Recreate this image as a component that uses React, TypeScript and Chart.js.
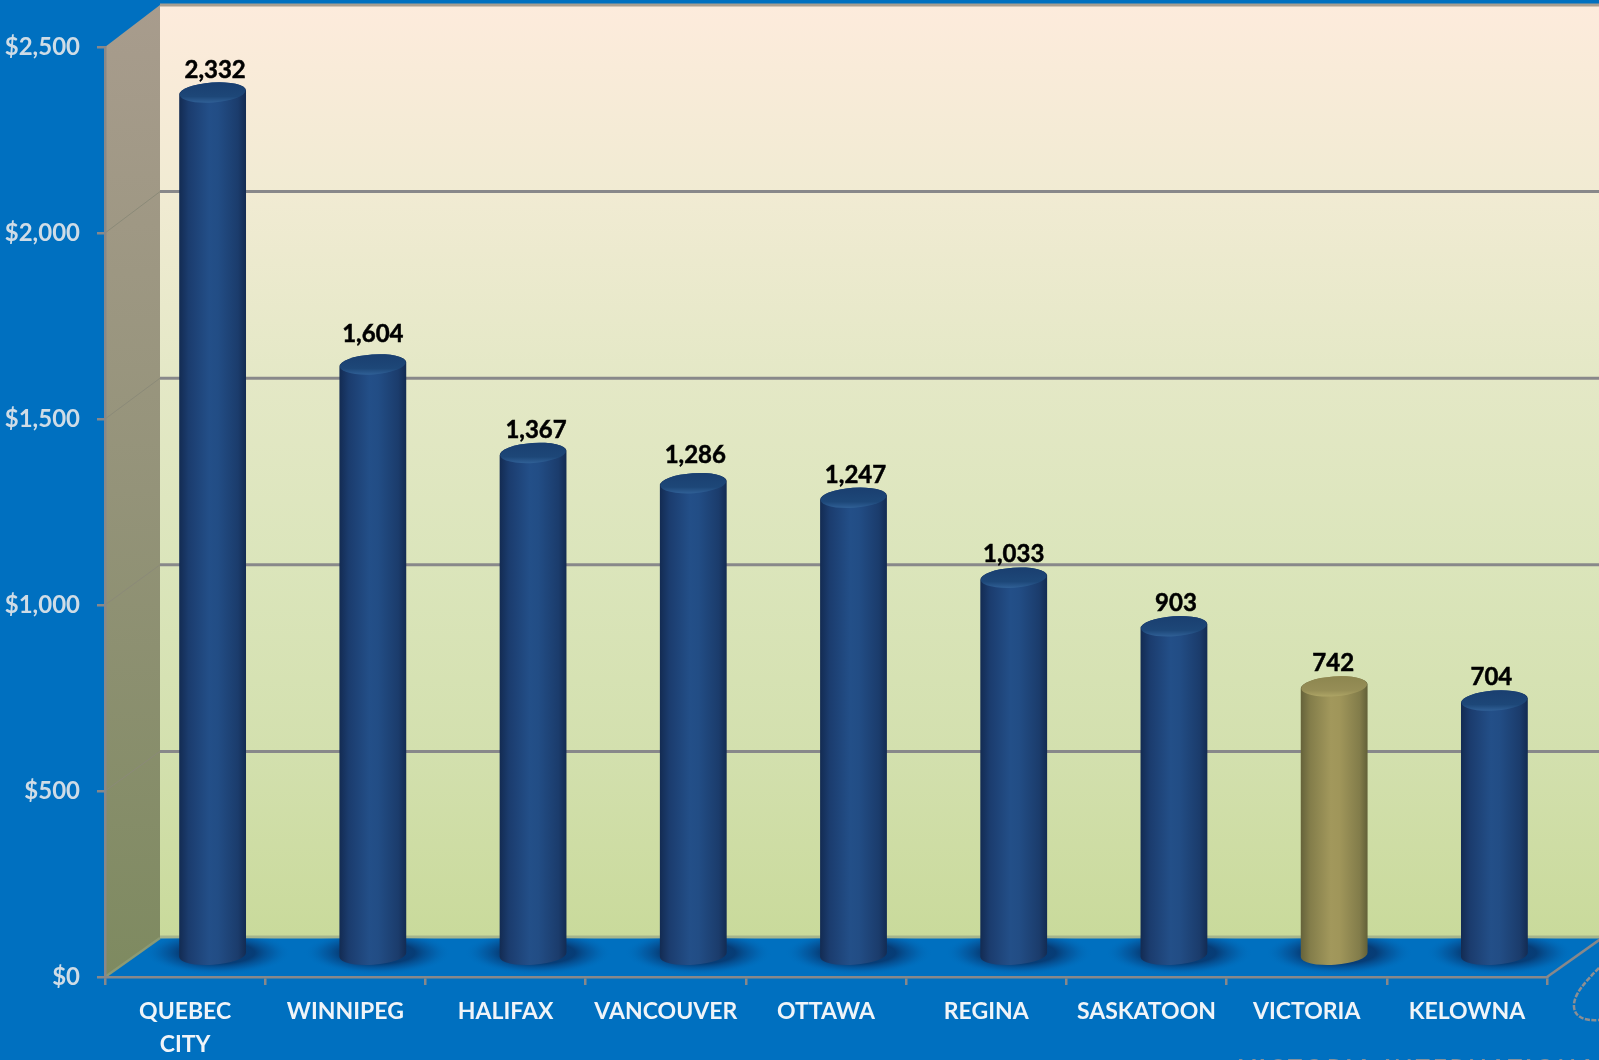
import React, { useEffect, useRef } from "react";
import { Chart, registerables, BarController, BarElement } from "chart.js";

const cities = [["QUEBEC", "CITY"], "WINNIPEG", "HALIFAX", "VANCOUVER", "OTTAWA", "REGINA", "SASKATOON", "VICTORIA", "KELOWNA"];
const costs = [2332, 1604, 1367, 1286, 1247, 1033, 903, 742, 704];
const barColors = ["#1f4a84", "#1f4a84", "#1f4a84", "#1f4a84", "#1f4a84", "#1f4a84", "#1f4a84", "#9c9258", "#1f4a84"];
const footerText = "VICTORIA INTERNATIONAL AIRPORT";

const FONT = "Lato, Carlito, sans-serif";
const BLUE = "#0070C0";
const GRID = "#88888a";
const DEPTH_X = 55;
const TILT = (-4 * Math.PI) / 180;

// hand-placed offsets of the value labels, as in the original slide
const labelNudgeX = [2.5, 0, 3, 2, 2, 0, 2, -1, -3];
const labelNudgeY = [2, -5, 3, -2, 3, 3, 3, 3, 3];

const shades: Record<string, { stops: string[]; capA: string; capB: string; capRim: string }> = {
  "#1f4a84": {
    stops: ["#132b52", "#1b3c6e", "#234f88", "#224d85", "#1b3c6c", "#132b52"],
    capA: "#1a3f70",
    capB: "#1d4778",
    capRim: "#2f5f95",
  },
  "#9c9258": {
    stops: ["#65623a", "#837d4a", "#a2985c", "#a0965a", "#827c4a", "#626038"],
    capA: "#8d8650",
    capB: "#968e56",
    capRim: "#ada465",
  },
};

class CylinderElement extends BarElement {
  static id = "cylinder";
  draw(ctx: CanvasRenderingContext2D) {
    const { x, y, base, width } = (this as any).getProps(["x", "y", "base", "width"], true);
    const shade = shades[(this as any).options.backgroundColor] || shades["#1f4a84"];
    const cx = x + 27.5;
    const topY = y - 13.5 - (3.5 * (base - y)) / 870;
    const baseY = base - 21;
    const rx = width / 2;
    const ry = 10;

    // floor shadow
    ctx.save();
    ctx.beginPath();
    ctx.rect(cx - 110, 938, 220, 38);
    ctx.clip();
    ctx.translate(cx + 5, baseY - 2);
    ctx.scale(1, 0.3);
    const sh = ctx.createRadialGradient(0, 0, 0, 0, 0, 74);
    sh.addColorStop(0, "rgba(8,48,100,0.85)");
    sh.addColorStop(0.5, "rgba(8,48,100,0.8)");
    sh.addColorStop(0.75, "rgba(6,70,135,0.4)");
    sh.addColorStop(1, "rgba(0,112,192,0)");
    ctx.fillStyle = sh;
    ctx.beginPath();
    ctx.arc(0, 0, 74, 0, Math.PI * 2);
    ctx.fill();
    ctx.restore();

    // body
    ctx.save();
    const g = ctx.createLinearGradient(cx - rx, 0, cx + rx, 0);
    [0, 0.14, 0.45, 0.58, 0.88, 1].forEach((p, i) => g.addColorStop(p, shade.stops[i]));
    ctx.fillStyle = g;
    ctx.beginPath();
    ctx.ellipse(cx, baseY, rx, ry, TILT, 0, Math.PI);
    ctx.ellipse(cx, topY, rx, ry, TILT, Math.PI, Math.PI * 2);
    ctx.closePath();
    ctx.fill();

    // cap
    const c = ctx.createLinearGradient(0, topY - ry, 0, topY + ry);
    c.addColorStop(0, shade.capA);
    c.addColorStop(0.7, shade.capB);
    c.addColorStop(1, shade.capRim);
    ctx.fillStyle = c;
    ctx.beginPath();
    ctx.ellipse(cx, topY, rx - 0.5, ry, TILT, 0, Math.PI * 2);
    ctx.fill();
    ctx.restore();
  }
}

class CylinderController extends BarController {
  static id = "cylinder";
  static defaults = { ...(BarController as any).defaults, dataElementType: "cylinder" };
  static overrides = (BarController as any).overrides;
}

Chart.register(...registerables, CylinderElement as any, CylinderController as any);

const scenery = {
  id: "scenery",
  beforeDraw(chart: any) {
    const { ctx, width, height } = chart;
    const xs = chart.scales.x;
    const ys = chart.scales.y;
    const left = xs.left;
    const right = xs.right;
    const back = (v: number) => ys.getPixelForValue(v) - 39 - (3 * v) / 2500;
    const y0 = ys.getPixelForValue(0);
    const yMax = ys.getPixelForValue(2500);
    const bx = left + DEPTH_X;

    ctx.save();
    ctx.fillStyle = BLUE;
    ctx.fillRect(0, 0, width, height);

    // back wall
    const wall = ctx.createLinearGradient(0, back(2500), 0, back(0));
    wall.addColorStop(0, "#fdebdc");
    wall.addColorStop(0.2, "#f1ebd3");
    wall.addColorStop(0.4, "#e4e8c6");
    wall.addColorStop(0.6, "#dbe5bb");
    wall.addColorStop(0.8, "#d3e0ae");
    wall.addColorStop(1, "#c9da9b");
    ctx.fillStyle = wall;
    ctx.fillRect(bx, back(2500), width - bx, back(0) - back(2500));

    // side wall
    const side = ctx.createLinearGradient(0, back(2500), 0, y0);
    side.addColorStop(0, "#a89c8d");
    side.addColorStop(0.5, "#949379");
    side.addColorStop(1, "#7e8a60");
    ctx.fillStyle = side;
    ctx.beginPath();
    ctx.moveTo(left, yMax);
    ctx.lineTo(bx, back(2500));
    ctx.lineTo(bx, back(0));
    ctx.lineTo(left, y0);
    ctx.closePath();
    ctx.fill();

    // edges of the box and gridlines
    ys.ticks.forEach((t: any) => {
      const v = t.value;
      const yb = back(v);
      const yf = ys.getPixelForValue(v);
      if (v > 0) {
        ctx.lineWidth = 3;
        ctx.strokeStyle = v === 2500 ? "#a89e90" : GRID;
        ctx.beginPath();
        ctx.moveTo(bx, yb);
        ctx.lineTo(width, yb);
        ctx.stroke();
      }
      if (v > 0 && v < 2500) {
        ctx.lineWidth = 1;
        ctx.strokeStyle = "#8b8a78";
        ctx.beginPath();
        ctx.moveTo(left, yf);
        ctx.lineTo(bx, yb);
        ctx.stroke();
      }
    });

    // floor
    ctx.fillStyle = BLUE;
    ctx.beginPath();
    ctx.moveTo(left, y0);
    ctx.lineTo(right, y0);
    ctx.lineTo(right + DEPTH_X, back(0));
    ctx.lineTo(bx, back(0));
    ctx.closePath();
    ctx.fill();
    ctx.lineWidth = 3;
    ctx.strokeStyle = "#a5b58d";
    ctx.beginPath();
    ctx.moveTo(bx, back(0) - 1);
    ctx.lineTo(width, back(0) - 1);
    ctx.stroke();
    ctx.lineWidth = 2.5;
    ctx.strokeStyle = GRID;
    ctx.beginPath();
    ctx.moveTo(right, y0);
    ctx.lineTo(right + DEPTH_X, back(0));
    ctx.stroke();
    ctx.strokeStyle = "#8c9a74";
    ctx.beginPath();
    ctx.moveTo(left, y0);
    ctx.lineTo(bx, back(0));
    ctx.stroke();

    // partly cropped ornament and footer at the photo's edge
    ctx.strokeStyle = "#8d8f92";
    ctx.lineWidth = 2.5;
    ctx.setLineDash([5, 1.5]);
    ctx.beginPath();
    ctx.moveTo(1599, 968);
    ctx.bezierCurveTo(1585, 982, 1573, 995, 1574, 1007);
    ctx.bezierCurveTo(1575, 1017, 1584, 1021, 1599, 1020);
    ctx.stroke();
    ctx.setLineDash([]);

    ctx.fillStyle = "#85909a";
    ctx.font = `bold 24px ${FONT}`;
    (ctx as any).letterSpacing = "3px";
    ctx.textAlign = "left";
    ctx.textBaseline = "alphabetic";
    ctx.fillText(footerText, 1239, 1077);
    (ctx as any).letterSpacing = "0px";
    ctx.restore();
  },
};

const valueLabels = {
  id: "valueLabels",
  afterDatasetsDraw(chart: any) {
    const { ctx } = chart;
    const meta = chart.getDatasetMeta(0);
    ctx.save();
    ctx.fillStyle = "#000";
    ctx.strokeStyle = "#000";
    ctx.lineWidth = 0.5;
    ctx.font = `bold 24px ${FONT}`;
    ctx.textAlign = "center";
    ctx.textBaseline = "middle";
    meta.data.forEach((el: any, i: number) => {
      const text = costs[i].toLocaleString("en-US");
      const lx = el.x + 27.5 + labelNudgeX[i];
      const ly = el.y - 41 + labelNudgeY[i];
      ctx.fillText(text, lx, ly);
      ctx.strokeText(text, lx, ly);
    });
    ctx.restore();
  },
};

export default function App() {
  const ref = useRef<HTMLCanvasElement>(null);
  useEffect(() => {
    const chart = new Chart(ref.current as HTMLCanvasElement, {
      type: "cylinder" as any,
      data: {
        labels: cities as any,
        datasets: [
          {
            data: costs,
            backgroundColor: barColors,
            borderWidth: 0,
            barPercentage: 0.418,
            categoryPercentage: 1,
            clip: false as any,
          },
        ],
      },
      options: {
        responsive: false,
        animation: false,
        layout: { padding: { top: 47, right: 52, left: 0, bottom: 0 } },
        plugins: { legend: { display: false }, tooltip: { enabled: false }, title: { display: false } },
        scales: {
          x: {
            afterFit(s: any) {
              s.height = 83;
            },
            grid: { drawOnChartArea: false, color: GRID, tickLength: 8, lineWidth: 2.5 },
            border: { color: GRID, width: 2.5 },
            ticks: {
              color: "#f0f4f8",
              padding: 10,
              maxRotation: 0,
              autoSkip: false,
              font: { family: FONT, weight: "bold", size: 23, lineHeight: 33 / 23 },
            },
          },
          y: {
            min: 0,
            max: 2500,
            afterFit(s: any) {
              s.width = 105;
            },
            grid: { drawOnChartArea: false, color: GRID, tickLength: 8, lineWidth: 2.5 },
            border: { color: GRID, width: 2.5 },
            ticks: {
              stepSize: 500,
              color: "#cfdce6",
              padding: 17,
              font: { family: FONT, weight: "bold", size: 24 },
              callback: (v: any) => "$" + Number(v).toLocaleString("en-US"),
            },
          },
        },
      },
      plugins: [scenery, valueLabels],
    } as any);
    return () => chart.destroy();
  }, []);
  return (
    <div style={{ position: "absolute", left: 0, top: 0, width: 1599, height: 1060, overflow: "hidden" }}>
      <canvas ref={ref} width={1599} height={1060} style={{ display: "block" }} />
    </div>
  );
}
